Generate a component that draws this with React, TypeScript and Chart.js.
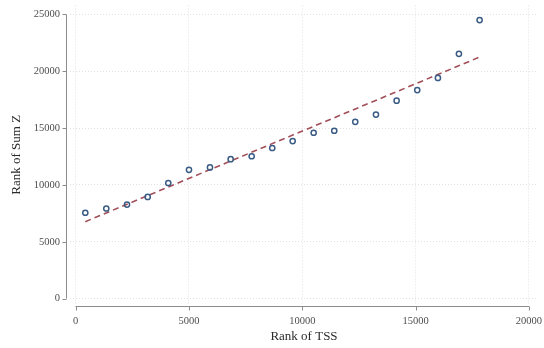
import React, { useEffect, useRef } from "react";
import { Chart, registerables } from "chart.js";

Chart.register(...registerables);

const binX = [432, 1358, 2271, 3183, 4092, 5004, 5930, 6843, 7769, 8677, 9577, 10503, 11411, 12337, 13250, 14162, 15071, 15983, 16909, 17822];
const binY = [7554, 7929, 8278, 8950, 10171, 11331, 11540, 12264, 12526, 13250, 13861, 14594, 14768, 15553, 16190, 17411, 18344, 19417, 21537, 24503];
const fitX = [432, 17822];
const fitY = [6770, 21250];
const xTicks = [0, 5000, 10000, 15000, 20000];
const yTicks = [0, 5000, 10000, 15000, 20000, 25000];

const SERIF = "'Liberation Serif', 'DejaVu Serif', serif";

const axisPlugin = {
  id: "stataAxes",
  afterDraw(chart: any) {
    const { ctx, scales } = chart;
    const xs = scales.x;
    const ys = scales.y;
    ctx.save();
    ctx.strokeStyle = "#8c8c8c";
    ctx.lineWidth = 1;
    const ax = 66.5;
    const y0 = ys.getPixelForValue(yTicks[0]);
    const y1 = ys.getPixelForValue(yTicks[yTicks.length - 1]);
    ctx.beginPath();
    ctx.moveTo(ax, y0);
    ctx.lineTo(ax, y1);
    yTicks.forEach((v) => {
      const p = Math.round(ys.getPixelForValue(v)) + 0.5;
      ctx.moveTo(ax - 4, p);
      ctx.lineTo(ax, p);
    });
    ctx.stroke();
    const ay = 306.5;
    const x0 = xs.getPixelForValue(xTicks[0]);
    const x1 = xs.getPixelForValue(xTicks[xTicks.length - 1]);
    ctx.beginPath();
    ctx.moveTo(x0, ay);
    ctx.lineTo(x1, ay);
    xTicks.forEach((v) => {
      const p = Math.round(xs.getPixelForValue(v)) + 0.5;
      ctx.moveTo(p, ay);
      ctx.lineTo(p, ay + 4);
    });
    ctx.stroke();
    ctx.restore();
  },
};

const zeroPad = (s: any) => {
  s.paddingLeft = 0;
  s.paddingRight = 0;
  s.paddingTop = 0;
  s.paddingBottom = 0;
};

export default function App() {
  const ref = useRef<HTMLCanvasElement>(null);
  useEffect(() => {
    document.body.style.margin = "0";
    const canvas = ref.current!;
    const chart = new Chart(canvas, {
      data: {
        datasets: [
          {
            type: "scatter",
            label: "bins",
            data: binX.map((x, i) => ({ x, y: binY[i] })),
            pointStyle: "circle",
            pointRadius: 2.6,
            pointBorderWidth: 1.5,
            backgroundColor: "rgba(255,255,255,0)",
            borderColor: "#3a5c84",
            order: 0,
          },
          {
            type: "line",
            label: "fit",
            data: fitX.map((x, i) => ({ x, y: fitY[i] })),
            borderColor: "#a24f59",
            borderWidth: 1.6,
            borderDash: [6, 4],
            pointRadius: 0,
            fill: false,
            order: 1,
          },
        ],
      } as any,
      options: {
        animation: false,
        responsive: false,
        maintainAspectRatio: false,
        layout: { padding: { top: 3, right: 6, left: 0, bottom: 0 } },
        plugins: { legend: { display: false }, tooltip: { enabled: false } },
        scales: {
          x: {
            type: "linear",
            position: "bottom",
            min: -243,
            max: 20397,
            afterBuildTicks: (s: any) => {
              s.ticks = xTicks.map((v) => ({ value: v }));
            },
            afterFit: (s: any) => {
              s.height = 44;
              zeroPad(s);
            },
            ticks: {
              padding: 11,
              maxRotation: 0,
              autoSkip: false,
              color: "#4d4d4d",
              font: { family: SERIF, size: 10.5 },
              callback: (v: any) => String(v),
            },
            grid: { drawTicks: false, color: "#e2e2e2", lineWidth: 1 },
            border: { display: false, dash: [1, 2] },
            title: {
              display: true,
              text: "Rank of TSS",
              color: "#2b2b2b",
              font: { family: SERIF, size: 13 },
              padding: { top: 0, bottom: 4 },
            },
          },
          y: {
            type: "linear",
            position: "left",
            min: -471,
            max: 25785,
            afterBuildTicks: (s: any) => {
              s.ticks = yTicks.map((v) => ({ value: v }));
            },
            afterFit: (s: any) => {
              s.width = 70;
              zeroPad(s);
            },
            ticks: {
              padding: 10,
              autoSkip: false,
              color: "#4d4d4d",
              font: { family: SERIF, size: 10.5 },
              callback: (v: any) => String(v),
            },
            grid: { drawTicks: false, color: "#e2e2e2", lineWidth: 1 },
            border: { display: false, dash: [1, 2] },
            title: {
              display: true,
              text: "Rank of Sum Z",
              color: "#2b2b2b",
              font: { family: SERIF, size: 13 },
              padding: { top: 9, bottom: 0 },
            },
          },
        },
      } as any,
      plugins: [axisPlugin],
    });
    return () => chart.destroy();
  }, []);
  return (
    <div style={{ width: 544, height: 348, background: "#fff" }}>
      <canvas ref={ref} width={544} height={348} style={{ display: "block" }} />
    </div>
  );
}
